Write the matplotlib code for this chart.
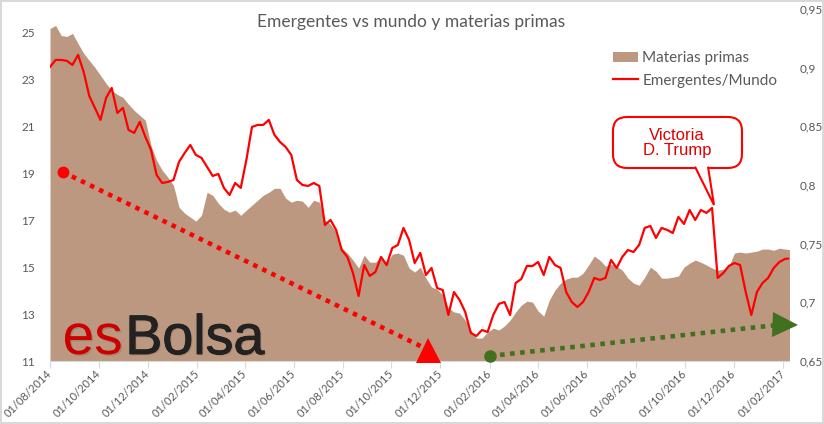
import matplotlib
matplotlib.use("Agg")
import matplotlib.pyplot as plt
import matplotlib.dates as mdates
import matplotlib.patheffects as pe
import pandas as pd
from matplotlib.patches import FancyBboxPatch, Polygon, Patch
from matplotlib.lines import Line2D
from matplotlib.ticker import FixedLocator, FuncFormatter

plt.rcParams["font.family"] = ["Lato", "DejaVu Sans"]

fechas = pd.date_range("2014-08-01", periods=133, freq="7D")

materias_primas = [
    25.17, 25.30, 24.87, 24.83, 24.96, 24.53, 24.11, 23.81, 23.51, 23.17,
    22.83, 22.53, 22.36, 22.23, 21.94, 21.68, 21.47, 21.26, 20.19, 19.55,
    19.13, 18.83, 18.49, 17.55, 17.30, 17.13, 16.96, 17.21, 18.19, 18.06,
    17.72, 17.47, 17.34, 17.43, 17.21, 17.43, 17.64, 17.85, 18.06, 18.19,
    18.36, 18.36, 17.94, 17.77, 17.85, 17.81, 17.55, 17.85, 17.77, 17.00,
    16.83, 16.49, 15.81, 15.60, 15.30, 14.96, 15.51, 15.21, 15.21, 15.43,
    15.17, 15.55, 15.60, 15.51, 14.96, 14.79, 15.00, 14.53, 14.15, 14.06,
    13.81, 13.26, 13.09, 13.04, 12.74, 12.32, 11.98, 11.98, 12.23, 12.40,
    12.32, 12.49, 12.74, 13.09, 13.38, 13.55, 13.51, 13.13, 12.91, 13.60,
    14.02, 14.32, 14.49, 14.57, 14.57, 14.74, 15.09, 15.47, 15.30, 15.04,
    15.13, 15.04, 14.87, 14.53, 14.32, 14.23, 14.57, 15.00, 14.83, 14.53,
    14.53, 14.57, 14.62, 15.00, 15.17, 15.30, 15.21, 15.09, 14.96, 14.87,
    14.91, 15.04, 15.60, 15.64, 15.60, 15.64, 15.68, 15.77, 15.77, 15.72,
    15.81, 15.77, 15.74,
]

emergentes_mundo = [
    0.9006, 0.9066, 0.9066, 0.9058, 0.9023, 0.9109, 0.8964, 0.8759, 0.8657, 0.8555,
    0.8742, 0.8827, 0.8614, 0.8657, 0.8469, 0.8444, 0.8538, 0.8410, 0.8299, 0.8086,
    0.8017, 0.8026, 0.8043, 0.8197, 0.8273, 0.8341, 0.8256, 0.8231, 0.8154, 0.8077,
    0.8094, 0.7975, 0.7915, 0.8017, 0.7975, 0.8214, 0.8495, 0.8512, 0.8512, 0.8555,
    0.8427, 0.8367, 0.8324, 0.8256, 0.8043, 0.8000, 0.7992, 0.8017, 0.7992, 0.7659,
    0.7702, 0.7617, 0.7446, 0.7387, 0.7250, 0.7054, 0.7318, 0.7225, 0.7259, 0.7387,
    0.7318, 0.7463, 0.7489, 0.7634, 0.7532, 0.7335, 0.7421, 0.7233, 0.7293, 0.7122,
    0.7105, 0.6892, 0.7088, 0.7020, 0.6918, 0.6739, 0.6713, 0.6764, 0.6747, 0.6892,
    0.6986, 0.7003, 0.6892, 0.7165, 0.7199, 0.7310, 0.7310, 0.7344, 0.7233, 0.7387,
    0.7318, 0.7293, 0.7088, 0.7003, 0.6960, 0.7003, 0.7088, 0.7208, 0.7191, 0.7208,
    0.7361, 0.7293, 0.7387, 0.7446, 0.7429, 0.7489, 0.7634, 0.7651, 0.7549, 0.7634,
    0.7617, 0.7591, 0.7728, 0.7668, 0.7787, 0.7702, 0.7787, 0.7762, 0.7804, 0.7208,
    0.7250, 0.7310, 0.7335, 0.7318, 0.7088, 0.6892, 0.7088, 0.7165, 0.7208, 0.7293,
    0.7344, 0.7370, 0.7375,
]

left_ticks = [11, 13, 15, 17, 19, 21, 23, 25]
right_ticks = [0.65, 0.70, 0.75, 0.80, 0.85, 0.90, 0.95]

BROWN = "#BC9880"
RED = "#FF0000"
GREEN = "#41701F"
GREY = "#595959"

fig = plt.figure(figsize=(8.24, 4.24), dpi=100, facecolor="white",
                 edgecolor="#d9d9d9", linewidth=1.5)
ax = fig.add_axes([50 / 824, 63 / 424, 739 / 824, 352 / 424])
ax2 = ax.twinx()

ax.fill_between(fechas, 11, materias_primas, color=BROWN, lw=0)
ax2.plot(fechas, emergentes_mundo, color=RED, lw=1.6)

ax.set_xlim(pd.Timestamp("2014-08-01"), pd.Timestamp("2017-02-08"))
ax.set_ylim(11, 26)
ax2.set_ylim(0.65, 0.95)

ax.yaxis.set_major_locator(FixedLocator(left_ticks))
ax2.yaxis.set_major_locator(FixedLocator(right_ticks))
ax2.yaxis.set_major_formatter(FuncFormatter(lambda v, p: f"{v:g}".replace(".", ",")))

ax.xaxis.set_major_locator(mdates.MonthLocator(bymonth=[2, 4, 6, 8, 10, 12]))
ax.xaxis.set_major_formatter(mdates.DateFormatter("%d/%m/%Y"))

for a in (ax, ax2):
    for s in a.spines.values():
        s.set_visible(False)
ax.spines["bottom"].set_visible(True)
ax.spines["bottom"].set_color("#d9d9d9")

ax.tick_params(axis="y", length=0, labelsize=8.5, labelcolor=GREY, pad=11)
ax2.tick_params(axis="y", length=0, labelsize=8.5, labelcolor=GREY, pad=8)
ax.tick_params(axis="x", length=5, color="#d9d9d9", labelsize=8, labelcolor=GREY, pad=3)
for lbl in ax.get_xticklabels():
    lbl.set_rotation(45)
    lbl.set_ha("right")
    lbl.set_va("center")
    lbl.set_rotation_mode("anchor")

# title
fig.text(0.499, 0.948, "Emergentes vs mundo y materias primas", ha="center",
         va="center", fontsize=12.5, color=GREY)

# legend
handles = [Patch(facecolor=BROWN, edgecolor="none"), Line2D([], [], color=RED, lw=1.6)]
ax2.legend(handles, ["Materias primas", "Emergentes/Mundo"], loc="upper left",
           bbox_to_anchor=(0.762, 0.88), frameon=False, fontsize=11,
           handlelength=1.6, handletextpad=0.3, labelspacing=0.55,
           borderpad=0, borderaxespad=0, labelcolor=GREY)

# red dotted trend (down)
ax2.plot([pd.Timestamp("2014-08-17"), pd.Timestamp("2015-11-15")], [0.8111, 0.6598],
         color=RED, lw=3.3, ls=(0, (1, 1.2)), zorder=4)
ax2.plot(pd.Timestamp("2014-08-17"), 0.8111, "o", color=RED, ms=7.5, zorder=5)
ax2.plot(pd.Timestamp("2015-11-15"), 0.6598, "^", color=RED, ms=18, mew=0,
         zorder=5, clip_on=False)

# green dotted trend (up)
ax2.plot([pd.Timestamp("2016-02-01"), pd.Timestamp("2017-01-19")], [0.6543, 0.6803],
         color=GREEN, lw=3.3, ls=(0, (1, 1.2)), zorder=4)
ax2.plot(pd.Timestamp("2016-02-01"), 0.6543, "o", color=GREEN, ms=8, zorder=5,
         clip_on=False)
ax2.plot(pd.Timestamp("2017-02-03"), 0.6811, ">", color=GREEN, ms=18, mew=0,
         zorder=5, clip_on=False)

# callout
box = FancyBboxPatch((0.7618, 0.5483), 0.1746, 0.1449,
                     boxstyle="round,pad=0,rounding_size=0.019",
                     mutation_aspect=739 / 352, transform=ax2.transAxes,
                     facecolor="white", edgecolor=RED, lw=1.5, zorder=6)
ax2.add_patch(box)
tail = Polygon([(0.8728, 0.552), (0.8985, 0.4432), (0.8904, 0.552)], closed=False,
               transform=ax2.transAxes, facecolor="white", edgecolor=RED, lw=1.5,
               zorder=7)
ax2.add_patch(tail)
ax2.text(0.8484, 0.6193, "Victoria\nD. Trump", transform=ax2.transAxes, ha="center",
         va="center", fontsize=12, family="Liberation Sans", color="#E00000",
         linespacing=1.0, zorder=8)

# logo
shadow = pe.withSimplePatchShadow(offset=(1, -1), shadow_rgbFace="black", alpha=0.12)
es = ax2.text(0.017, 0.02, "es", transform=ax2.transAxes, fontsize=41,
              family="Liberation Sans", color="#CC0000", va="baseline", zorder=5,
              path_effects=[shadow])
ax2.annotate("Bolsa", xy=(1, 0), xycoords=es, xytext=(2, 0), textcoords="offset points",
             fontsize=40, family="Liberation Sans", color="#222222", ha="left",
             va="bottom", zorder=5,
             path_effects=[shadow, pe.Stroke(linewidth=0.7, foreground="#222222"),
                           pe.Normal()])

fig.savefig("out.png", dpi=100)
